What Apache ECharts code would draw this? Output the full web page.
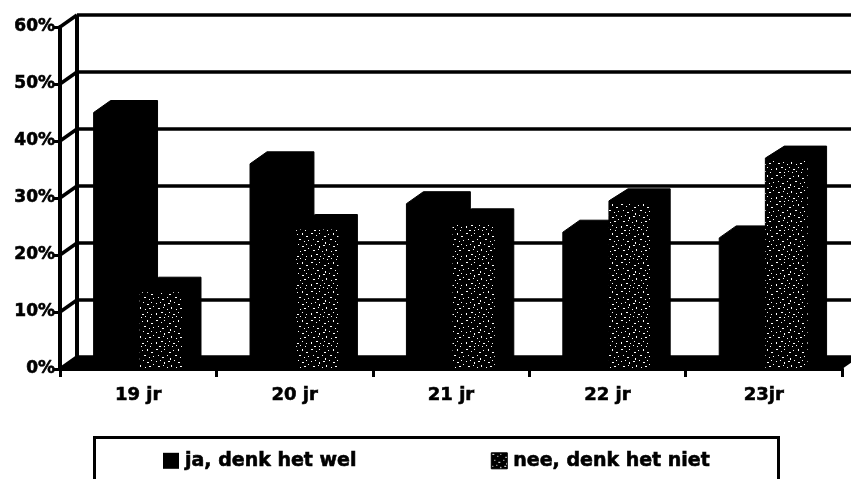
<!DOCTYPE html>
<html><head><meta charset="utf-8">
<style>html,body{margin:0;padding:0;background:#fff}#c{width:851px;height:479px}</style>
<script src="https://cdn.jsdelivr.net/npm/echarts@6/dist/echarts.min.js"></script>
</head><body><div id="c"></div>
<script>
const categories = ['19 jr','20 jr','21 jr','22 jr','23jr'];
const jaValues = [45,36,29,24,23];
const neeValues = [14,25,26,29.5,37];
const percentTicks = [0,10,20,30,40,50,60];
const seriesNames = ['ja, denk het wel','nee, denk het niet'];

const DX = 17, DY = -12;
const FONT = '"DejaVu Sans"';

function stipple(){
  const c = document.createElement('canvas'); c.width = 31; c.height = 29;
  const g = c.getContext('2d'); g.fillStyle = '#000'; g.fillRect(0,0,31,29);
  g.fillStyle = '#fff';
  const dots = [[1,1,2,1],[6,3,1,1],[9,1,1,1],[14,4,2,1],[18,2,1,1],[23,1,1,2],[27,4,2,1],
    [3,7,1,1],[7,9,2,1],[12,7,1,1],[15,10,1,2],[20,7,2,1],[25,9,1,1],[29,8,1,1],
    [1,13,1,1],[5,12,1,1],[9,14,1,2],[13,13,2,1],[19,12,1,1],[23,14,2,1],[27,12,1,1],
    [3,18,2,1],[8,17,1,1],[12,19,1,1],[16,17,1,2],[21,19,1,1],[25,18,2,1],[29,16,1,1],
    [1,23,1,2],[6,22,2,1],[10,24,1,1],[14,22,1,1],[18,24,2,1],[23,22,1,1],[27,24,1,1],
    [4,27,2,1],[9,27,1,1],[13,26,1,1],[17,27,1,1],[21,26,1,1],[26,27,1,1]];
  dots.forEach(d => g.fillRect(d[0],d[1],d[2],d[3]));
  return c;
}
const pattern = {image: stipple(), repeat: 'repeat'};

function barShape(x0,x1,yTop,yBase,dx){
  return [[x0,yBase],[x0,yTop],[x0+dx,yTop+DY],[x1+dx,yTop+DY],[x1+dx,yBase+DY],[x1,yBase]];
}
function renderBar(offA, offB, textured, dx){
  return function(params, api){
    const band = api.size([1,0])[0];
    const top = api.coord([api.value(0), api.value(1)]);
    const base = api.coord([api.value(0), 0]);
    const x0 = top[0] + offA*band, x1 = top[0] + offB*band;
    const children = [{type:'polygon', shape:{points:barShape(x0,x1,top[1],base[1],dx)},
      style:{fill:'#000', stroke:'#000', lineWidth:1}}];
    if(textured){
      children.push({type:'rect', shape:{x:x0,y:top[1]+3,width:x1-x0,height:base[1]-top[1]-3},
        style:{fill:pattern}});
    }
    return {type:'group', children};
  };
}
function renderWall(params, api){
  const cs = params.coordSys;
  const v = api.value(1);
  const y = api.coord([0,v])[1];
  const left = cs.x, right = cs.x + cs.width;
  const line = {stroke:'#000', lineWidth:3.5};
  const children = [
    {type:'line', shape:{x1:left,y1:y,x2:left+DX,y2:y+DY}, style:line},
    {type:'line', shape:{x1:left+DX,y1:y+DY,x2:right+DX,y2:y+DY}, style:line}
  ];
  if(v === 0){
    children.unshift({type:'polygon', shape:{points:[[left,y],[left+DX,y+DY],[right+DX,y+DY],[right,y]]},
      style:{fill:'#000'}});
    const yTop = api.coord([0,percentTicks[percentTicks.length-1]])[1];
    children.push({type:'line', shape:{x1:left+DX,y1:y+DY,x2:left+DX,y2:yTop+DY}, style:{stroke:'#000',lineWidth:4}});
  }
  return {type:'group', children};
}

const labelStyle = {color:'#000', fontFamily:FONT, fontWeight:'bold', textBorderColor:'#000', textBorderWidth:0.6};
const chart = echarts.init(document.getElementById('c'), null, {renderer:'canvas'});
chart.setOption({
  animation:false,
  backgroundColor:'#fff',
  grid:{left:60, top:27, width:782, height:342, containLabel:false},
  xAxis:{type:'category', data:categories,
    axisLine:{lineStyle:{color:'#000',width:4}},
    axisTick:{show:true, length:8, lineStyle:{color:'#000',width:3}},
    axisLabel:Object.assign({fontSize:18, margin:17}, labelStyle)},
  yAxis:{type:'value', min:0, max:60, interval:10,
    axisLine:{show:true, lineStyle:{color:'#000',width:4}},
    axisTick:{show:true, length:7, lineStyle:{color:'#000',width:3}},
    splitLine:{show:false},
    axisLabel:Object.assign({fontSize:17, margin:5, formatter:'{value}%'}, labelStyle)},
  legend:{left:158, top:446, orient:'horizontal', itemWidth:16, itemHeight:16, itemGap:134,
    icon:'rect', selectedMode:false,
    textStyle:Object.assign({fontSize:19, padding:[0,0,0,1]}, labelStyle),
    data:[{name:seriesNames[0], itemStyle:{color:'#000'}},
          {name:seriesNames[1], itemStyle:{color:pattern, borderColor:'#000', borderWidth:1}}]},
  graphic:[{type:'rect', left:92, top:435, shape:{width:684,height:70},
    style:{fill:'none', stroke:'#000', lineWidth:3}, z:0}],
  series:[
    {type:'custom', name:'walls', clip:false, z:1, renderItem:renderWall, silent:true,
      data:percentTicks.map(v=>[0,v]), encode:{x:0,y:1}},
    {type:'custom', name:seriesNames[0], clip:false, z:2, renderItem:renderBar(-0.285,0.015,false,DX),
      itemStyle:{color:'#000'}, data:categories.map((c,i)=>[i,jaValues[i]]), encode:{x:0,y:1}},
    {type:'custom', name:seriesNames[1], clip:false, z:3, renderItem:renderBar(0.01,0.28,true,19),
      itemStyle:{color:'#000'}, data:categories.map((c,i)=>[i,neeValues[i]]), encode:{x:0,y:1}}
  ]
});
</script></body></html>
